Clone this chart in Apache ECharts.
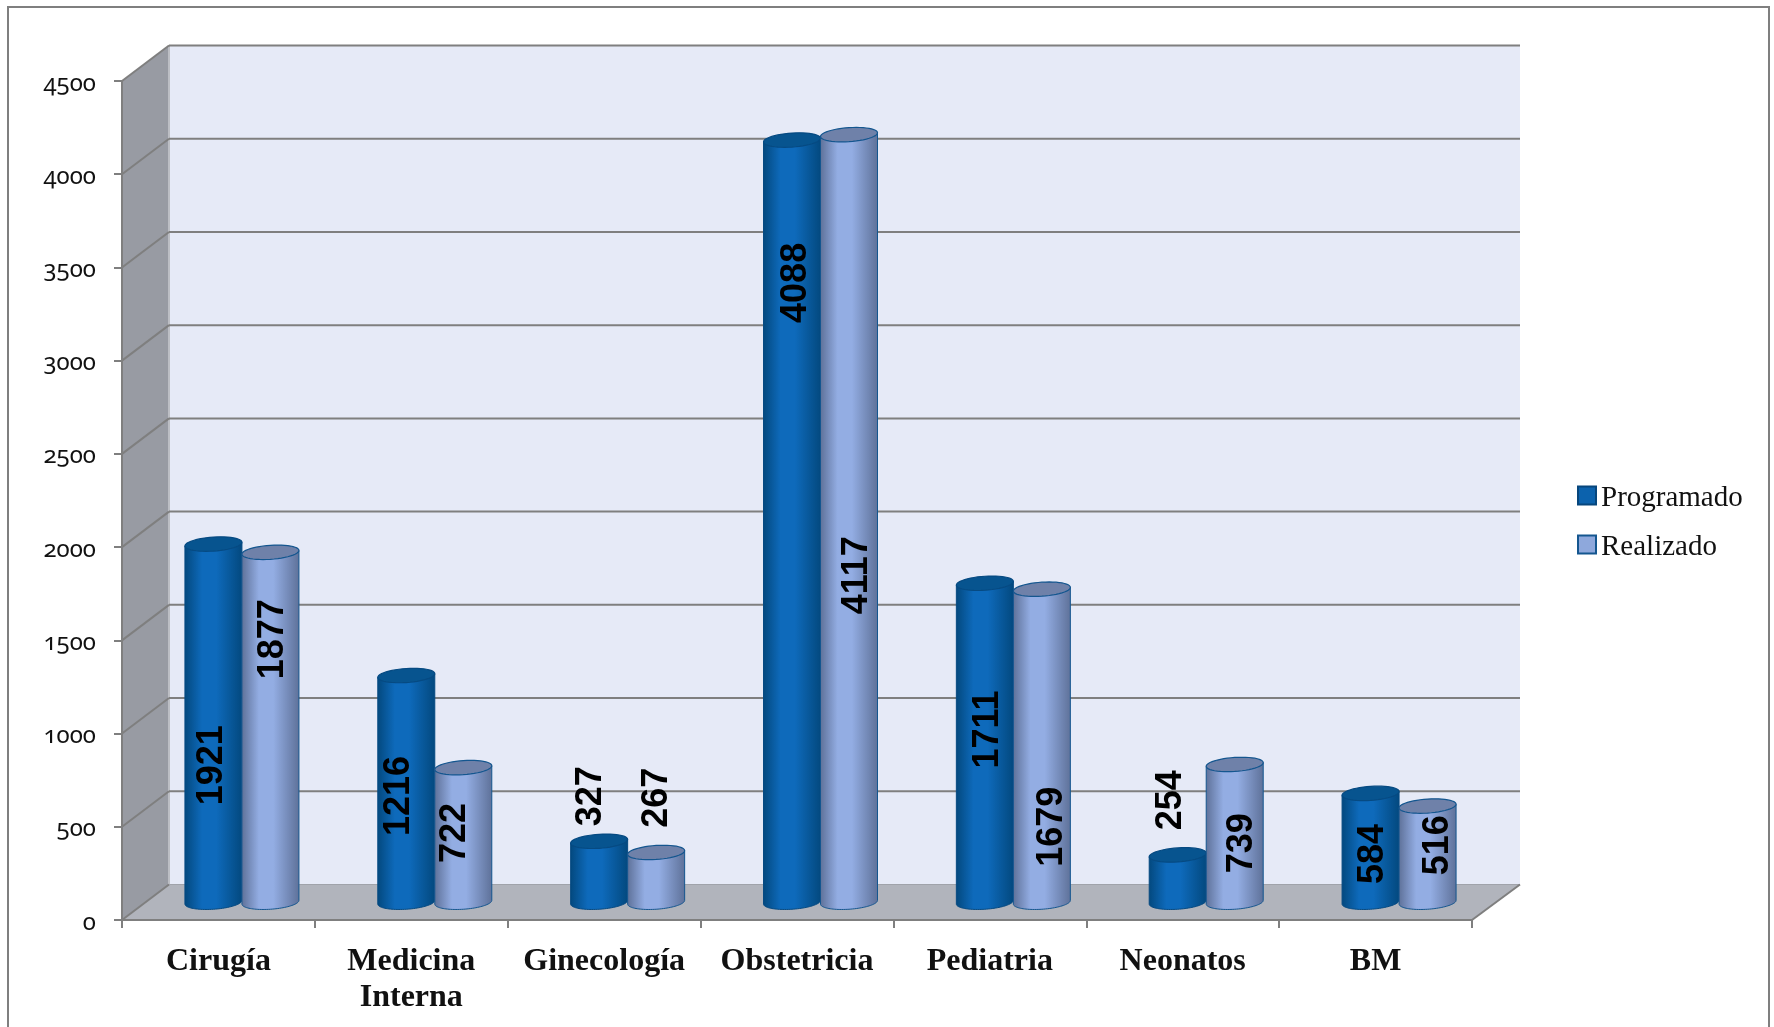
<!DOCTYPE html>
<html><head><meta charset="utf-8">
<style>html,body{margin:0;padding:0;background:#fff}#c{width:1774px;height:1027px;filter:blur(.5px)}
text{font-feature-settings:"onum" 1 !important}</style>
<script src="https://cdn.jsdelivr.net/npm/echarts@6/dist/echarts.min.js"></script>
</head><body><div id="c"></div><script>
const categories = ['Cirugía','Medicina\nInterna','Ginecología','Obstetricia','Pediatria','Neonatos','BM'];
const programado = [1921,1216,327,4088,1711,254,584];
const realizado  = [1877,722,267,4117,1679,739,516];
const yTicks = [0,500,1000,1500,2000,2500,3000,3500,4000,4500];
// Hand-placed data labels of the source: [sideways px from the cylinder axis, level on the value axis]
const programadoLabelPlace = [[-4,735],[-10,570],[-11,569],[1,3322],[1,927],[-9,547],[0,259]];
const realizadoLabelPlace  = [[0,1411],[-11,372],[-2,560],[5,1754],[8,405],[5,316],[8,306]];

const DX = 47, DY = 35.5;
const GRAY = '#7f7f7f';
const grad = (e,m)=>({type:'linear',x:0,y:0,x2:1,y2:0,colorStops:[
  {offset:0,color:e},{offset:.3,color:m},{offset:.55,color:m},{offset:1,color:e}]});
const styles = {
  programado:{body:grad('#03497f','#0e6abb'),cap:'#07548f',stroke:'#064a82',
    dx:-28.5,rx:28.5,swatch:'#0c62ad'},
  realizado:{body:grad('#5f729a','#93ade3'),cap:'#6f81a9',stroke:'#14568f',
    dx:28.5,rx:28.5,swatch:'#8ea8dc'}
};
function ellipsePts(cx,cy,rx,ry,from,to){
  const pts=[],tilt=-0.065,n=48;
  for(let k=0;k<=n;k++){
    const a=from+(to-from)*k/n, x=rx*Math.cos(a), y=ry*Math.sin(a);
    pts.push([cx+x, cy+y+x*tilt]);
  }
  return pts;
}
function cylinderItem(key,place){
  const st=styles[key];
  return function(params,api){
    const i=api.value(0), v=api.value(1);
    const p0=api.coord([i,0]), pv=api.coord([i,v]);
    const cx=p0[0]+DX/2+st.dx, by=p0[1]-DY/2, ty=pv[1]-DY/2, ry=7;
    const bottom=ellipsePts(cx,by,st.rx,ry,0,Math.PI);
    const body=[[cx+st.rx,ty-st.rx*0.065],...bottom,[cx-st.rx,ty+st.rx*0.065]];
    const cap=ellipsePts(cx,ty,st.rx,ry,0,Math.PI*2);
    const lb=api.coord([i,place[i][1]]);
    return {type:'group',children:[
      {type:'polygon',shape:{points:body},style:{fill:st.body,stroke:st.stroke,lineWidth:1}},
      {type:'polygon',shape:{points:cap},style:{fill:st.cap,stroke:st.stroke,lineWidth:1.2}},
      {type:'text',x:cx+place[i][0],y:lb[1]-DY/2,rotation:Math.PI/2,
       style:{text:String(v),fill:'#000',fontFamily:'Liberation Sans',fontWeight:'bold',fontSize:36,align:'center',verticalAlign:'middle'}}
    ]};
  };
}
function wallsItem(params,api){
  const c=[];
  const L=api.coord([0,0])[0]-api.size([1,0])[0]/2;
  const R=L+api.size([1,0])[0]*categories.length;
  const y0=api.coord([0,0])[1], yT=api.coord([0,4500])[1];
  const BR=R+DX+1;
  const poly=(points,fill)=>c.push({type:'polygon',shape:{points},style:{fill}});
  const line=(a,b,w,col)=>c.push({type:'line',shape:{x1:a[0],y1:a[1],x2:b[0],y2:b[1]},style:{stroke:col||GRAY,lineWidth:w||2}});
  poly([[L+DX,yT-DY],[BR,yT-DY],[BR,y0-DY],[L+DX,y0-DY]],'#e6eaf7');
  poly([[L,yT],[L+DX,yT-DY],[L+DX,y0-DY],[L,y0]],'#989ba3');
  poly([[L,y0],[L+DX,y0-DY],[BR,y0-DY],[R,y0]],'#b1b4bc');
  line([L+DX,yT-DY],[L+DX,y0-DY],2,'#bcbec4');
  yTicks.forEach(t=>{
    const y=api.coord([0,t])[1];
    line([L,y],[L+DX,y-DY],2);
    line([L+DX,y-DY],[BR,y-DY],t===0?1:2,t===0?'#a0a3aa':GRAY);
  });
  line([R,y0],[BR,y0-DY],2);
  return {type:'group',children:c};
}
const chart=echarts.init(document.getElementById('c'),null,{renderer:'svg',width:1774,height:1027});
chart.setOption({
  animation:false,backgroundColor:'#fff',
  graphic:[{type:'rect',shape:{x:8,y:7,width:1761,height:1040},style:{fill:'none',stroke:GRAY,lineWidth:2},z:-1}],
  grid:{left:122,top:81,width:1350,height:839,containLabel:false},
  legend:{orient:'vertical',left:1572,top:471,itemWidth:18,itemHeight:18,itemGap:10,
    textStyle:{fontFamily:'Liberation Serif',fontSize:29,color:'#111',lineHeight:39},
    data:[{name:'Programado',icon:'rect',itemStyle:{color:styles.programado.swatch,borderColor:'#07467c',borderWidth:2}},
          {name:'Realizado',icon:'rect',itemStyle:{color:styles.realizado.swatch,borderColor:'#14568f',borderWidth:2}}]},
  xAxis:{type:'category',data:categories,z:5,
    axisLine:{lineStyle:{color:GRAY,width:2}},
    axisTick:{show:true,alignWithLabel:false,length:8,lineStyle:{color:GRAY,width:2}},
    axisLabel:{interval:0,margin:21,fontFamily:'Liberation Serif',fontWeight:'bold',fontSize:32,color:'#111',lineHeight:36}},
  yAxis:{type:'value',min:0,max:4500,interval:500,z:5,splitLine:{show:false},
    axisLine:{show:true,lineStyle:{color:GRAY,width:2}},
    axisTick:{show:true,length:8,lineStyle:{color:GRAY,width:2}},
    axisLabel:{margin:26,fontFamily:'Noto Sans',fontSize:24,color:'#111',formatter:v=>String(v)}},
  series:[
    {type:'custom',name:'walls',silent:true,z:1,coordinateSystem:'cartesian2d',renderItem:wallsItem,data:[[0,0]],encode:{x:0,y:1}},
    {type:'custom',name:'Programado',z:3,renderItem:cylinderItem('programado',programadoLabelPlace),
      data:programado.map((v,i)=>[i,v]),encode:{x:0,y:1},itemStyle:{color:styles.programado.swatch}},
    {type:'custom',name:'Realizado',z:4,renderItem:cylinderItem('realizado',realizadoLabelPlace),
      data:realizado.map((v,i)=>[i,v]),encode:{x:0,y:1},itemStyle:{color:styles.realizado.swatch}}
  ]
});
</script></body></html>
